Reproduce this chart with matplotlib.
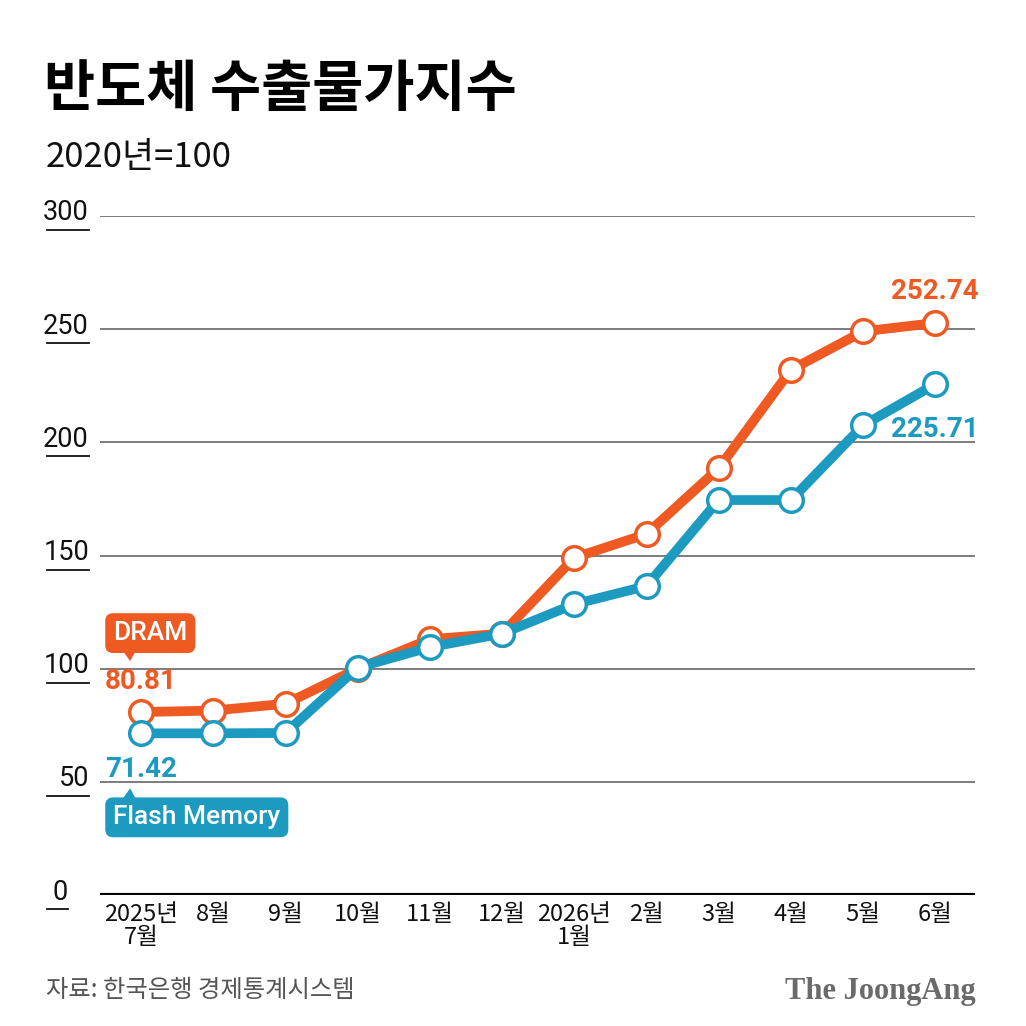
import matplotlib.pyplot as plt
from matplotlib.patches import Polygon
from matplotlib.lines import Line2D

plt.rcParams['font.family'] = ['Noto Sans CJK KR', 'DejaVu Sans']

# --- data ---
months = ['2025년\n7월', '8월', '9월', '10월', '11월', '12월',
          '2026년\n1월', '2월', '3월', '4월', '5월', '6월']
dram = [80.81, 81.5, 84.5, 100.0, 113.0, 115.5, 149.0, 159.5, 188.5, 232.0, 249.0, 252.74]
flash = [71.42, 71.42, 71.6, 100.5, 109.5, 115.5, 128.5, 136.5, 174.5, 174.5, 207.5, 225.71]
yticks = [0, 50, 100, 150, 200, 250, 300]

ORANGE = '#EE5A22'
TEAL = '#1C9AC0'
W = H = 1026


def fx(px):
    return px / W


def fy(py):
    return 1 - py / H


fig = plt.figure(figsize=(10.26, 10.26), dpi=100)
fig.patch.set_facecolor('white')

# axes frame: x 100..975 px, y 216 (300) .. 895 (0)
ax = fig.add_axes([fx(100), fy(895), fx(875), (895 - 216) / H])
ax.set_ylim(0, 300)
ax.set_xlim(-0.57, 11.55)
for s in ax.spines.values():
    s.set_visible(False)
ax.set_yticks([])

for v in yticks[1:]:
    ax.axhline(v, color='#666666', lw=1.2, zorder=1)
ax.axhline(0, color='black', lw=3, zorder=1)

ax.set_xticks(range(len(months)))
ax.set_xticklabels(months, fontsize=17, linespacing=1.0, color='#111111')
ax.tick_params(axis='x', length=0, pad=6)
for t in ax.get_xticklabels():
    t.set_multialignment('center')

# lines
ax.plot(range(len(dram)), dram, color=ORANGE, lw=7, marker='o', ms=17,
        mfc='white', mec=ORANGE, mew=2.5, zorder=3, solid_capstyle='round')
ax.plot(range(len(flash)), flash, color=TEAL, lw=7, marker='o', ms=17,
        mfc='white', mec=TEAL, mew=2.5, zorder=4, solid_capstyle='round')

# y tick labels with underline
num_font = ['Roboto', 'DejaVu Sans']
for v in yticks:
    py = 895 - v * (895 - 216) / 300
    right = 68 if v == 0 else 89
    fig.text(fx(right), fy(py - 3), str(v), ha='right', va='center',
             fontsize=19.5, family=num_font, color='#111111')
    fig.add_artist(Line2D([fx(47), fx(right)], [fy(py + 14), fy(py + 14)],
                          color='#111111', lw=1.3))

# value labels
ax.annotate(f'{dram[0]:.2f}', (0, dram[0]), xytext=(-36, 31), textcoords='offset pixels',
            ha='left', va='center', fontsize=20, fontweight='bold', color=ORANGE,
            family=num_font, zorder=5)
ax.annotate(f'{flash[0]:.2f}', (0, flash[0]), xytext=(-36, -36), textcoords='offset pixels',
            ha='left', va='center', fontsize=20, fontweight='bold', color=TEAL,
            family=num_font, zorder=5)
ax.annotate(f'{dram[-1]:.2f}', (11, dram[-1]), xytext=(0, 31), textcoords='offset pixels',
            ha='center', va='center', fontsize=20, fontweight='bold', color=ORANGE,
            family=num_font, zorder=5)
ax.annotate(f'{flash[-1]:.2f}', (11, flash[-1]), xytext=(0, -45), textcoords='offset pixels',
            ha='center', va='center', fontsize=20, fontweight='bold', color=TEAL,
            family=num_font, zorder=5)

# legend tags
ax.annotate('DRAM', (0, dram[0]), xytext=(-28, 79), textcoords='offset pixels',
            ha='left', va='center', fontsize=19, fontweight='medium', color='white',
            family=num_font,
            bbox=dict(boxstyle='round,pad=0.3,rounding_size=0.3', fc=ORANGE, ec='none'),
            zorder=6)
ax.annotate('Flash Memory', (0, flash[0]), xytext=(-28, -84), textcoords='offset pixels',
            ha='left', va='center', fontsize=19, fontweight='medium', color='white',
            family=num_font,
            bbox=dict(boxstyle='round,pad=0.3,rounding_size=0.3', fc=TEAL, ec='none'),
            zorder=6)

# pointer triangles of tags
x0, yd = ax.transData.transform((0, dram[0]))
_, yf = ax.transData.transform((0, flash[0]))
tri_d = [(x0 - 19, yd + 62), (x0 - 5, yd + 62), (x0 - 11, yd + 51)]
tri_f = [(x0 - 19, yf - 66), (x0 - 5, yf - 66), (x0 - 11, yf - 55)]
fig.add_artist(Polygon([(a / W, b / H) for a, b in tri_d], closed=True,
                       fc=ORANGE, ec='none', transform=fig.transFigure))
fig.add_artist(Polygon([(a / W, b / H) for a, b in tri_f], closed=True,
                       fc=TEAL, ec='none', transform=fig.transFigure))

# titles
fig.text(fx(44), fy(90), '반도체 수출물가지수', fontsize=40, fontweight='heavy',
         color='black', va='center', ha='left')
fig.text(fx(46), fy(157), '2020년=100', fontsize=25, color='#111111',
         va='center', ha='left')

# footer
fig.text(fx(46), fy(990), '자료: 한국은행 경제통계시스템', fontsize=17.5, color='#555555',
         va='center', ha='left')
fig.text(fx(976), fy(991), 'The JoongAng', fontsize=22, fontweight='bold', color='#6a6a6a',
         family=['Liberation Serif', 'DejaVu Serif'], va='center', ha='right')

fig.savefig('out.png', dpi=100, facecolor='white')
